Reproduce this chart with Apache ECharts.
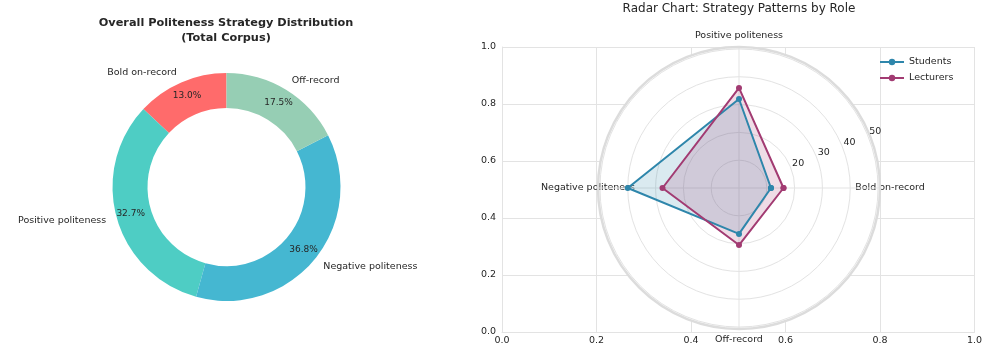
<!DOCTYPE html>
<html>
<head>
<meta charset="utf-8">
<script src="https://cdn.jsdelivr.net/npm/echarts@6/dist/echarts.min.js"></script>
<style>
html,body{margin:0;padding:0;background:#fff;}
#chart{width:985px;height:347px;}
</style>
</head>
<body>
<div id="chart"></div>
<script>
// ---- Data ----
const pieCategories = ['Bold on-record', 'Positive politeness', 'Negative politeness', 'Off-record'];
const pieValues = [13.0, 32.7, 36.8, 17.5];
const pieColors = ['#FF6B6B', '#4ECDC4', '#45B7D1', '#96CEB4'];

const radarCategories = ['Bold on-record', 'Positive politeness', 'Negative politeness', 'Off-record'];
const studentsValues = [11.5, 32.0, 40.0, 16.5];
const lecturersValues = [16.0, 36.0, 27.5, 20.5];
const seriesNames = ['Students', 'Lecturers'];

const cartTicks = [0, 0.2, 0.4, 0.6, 0.8, 1.0];
const radialTickLabels = [20, 30, 40, 50];

const FONT = 'DejaVu Sans';
const TXT = '#262626';
const GRID = '#e3e3e3';

const chart = echarts.init(document.getElementById('chart'), null, {renderer: 'canvas'});

const angleStep = 360 / radarCategories.length;
function closeLoop(vals) {
  const pts = radarCategories.map((c, i) => [vals[i], i * angleStep]);
  pts.push([vals[0], 360]);
  return pts;
}

const polarCenter = [739, 188];
const polarR = 141;
const rMax = 50.7;

const option = {
  backgroundColor: '#fff',
  animation: false,
  textStyle: {fontFamily: FONT},
  title: [
    {text: 'Overall Politeness Strategy Distribution\n(Total Corpus)', left: 226, top: 16, padding: 0, textAlign: 'center',
     textStyle: {fontSize: 11.3, fontWeight: 'bold', lineHeight: 15, color: TXT, fontFamily: FONT}},
    {text: 'Radar Chart: Strategy Patterns by Role', left: 739, top: 1, padding: 0, textAlign: 'center',
     textStyle: {fontSize: 12, fontWeight: 'normal', lineHeight: 15, color: TXT, fontFamily: FONT}}
  ],
  legend: {
    data: seriesNames, orient: 'vertical', left: 874, top: 52, itemWidth: 24, itemHeight: 8, itemGap: 6,
    textStyle: {fontSize: 9.5, color: TXT, fontFamily: FONT}
  },
  grid: {left: 502, right: 8, top: 47, bottom: 15, containLabel: false},
  xAxis: {type: 'value', min: cartTicks[0], max: cartTicks[cartTicks.length-1], interval: 0.2, z: 0,
    axisLine: {show: true, lineStyle: {color: GRID}}, axisTick: {show: false},
    splitLine: {show: true, lineStyle: {color: GRID}},
    axisLabel: {formatter: v => v.toFixed(1), fontSize: 9.5, color: TXT, margin: 4, fontFamily: FONT}},
  yAxis: {type: 'value', min: cartTicks[0], max: cartTicks[cartTicks.length-1], interval: 0.2, z: 0,
    axisLine: {show: true, lineStyle: {color: GRID}}, axisTick: {show: false},
    splitLine: {show: true, lineStyle: {color: GRID}},
    axisLabel: {formatter: v => v.toFixed(1), fontSize: 9.5, color: TXT, margin: 6, fontFamily: FONT}},
  polar: [
    {center: polarCenter, radius: polarR},
    {center: polarCenter, radius: 160}
  ],
  angleAxis: [
    {polarIndex: 0, type: 'value', min: 0, max: 360, interval: angleStep, startAngle: 0, clockwise: false, z: 2,
     axisLine: {show: true, lineStyle: {color: '#dcdcdc', width: 2.5}}, axisTick: {show: false},
     splitLine: {show: true, lineStyle: {color: GRID, width: 1}},
     axisLabel: {margin: -40, formatter: v => (v < 360 ? '{n|' + radarCategories[Math.round(v / angleStep)] + '}' : ''),
       rich: {n: {width: 100, height: 102, align: 'center', verticalAlign: 'middle', fontSize: 9.5, color: TXT, fontFamily: FONT}}}},
    {polarIndex: 1, type: 'value', min: 0, max: 360, startAngle: 22.5, clockwise: false,
     axisLine: {show: false}, axisTick: {show: false}, axisLabel: {show: false}, splitLine: {show: false}}
  ],
  radiusAxis: [
    {polarIndex: 0, type: 'value', min: 0, max: rMax, interval: 10, z: 2,
     axisLine: {show: false}, axisTick: {show: false}, axisLabel: {show: false},
     splitLine: {show: true, lineStyle: {color: GRID, width: 1}}},
    {polarIndex: 1, type: 'value', min: -3, max: 54.5, interval: 1, z: 4,
     axisLine: {show: false}, axisTick: {show: false}, splitLine: {show: false},
     axisLabel: {formatter: v => (radialTickLabels.indexOf(Math.round(v)) >= 0 && Math.abs(v - Math.round(v)) < 1e-6 ? String(Math.round(v)) : ''),
       align: 'center', verticalAlign: 'middle', fontSize: 9.5, color: TXT, margin: 0, fontFamily: FONT}}
  ],
  series: [
    {type: 'pie', name: 'ring', center: [226.5, 187], radius: [79, 114], startAngle: 90, clockwise: false,
     avoidLabelOverlap: false, silent: true,
     data: pieCategories.map((c, i) => ({name: c, value: pieValues[i], itemStyle: {color: pieColors[i]}})),
     label: {show: true, position: 'inside', formatter: p => p.value.toFixed(1) + '%', fontSize: 9, color: TXT, fontFamily: FONT},
     labelLine: {show: false}},
    {type: 'pie', name: 'names', center: [226.5, 187], radius: [124, 125], startAngle: 90, clockwise: false,
     avoidLabelOverlap: false, silent: true,
     data: pieCategories.map((c, i) => ({name: c, value: pieValues[i], itemStyle: {color: 'rgba(0,0,0,0)'}})),
     label: {show: true, position: 'outside', formatter: '{b}', fontSize: 9.5, color: TXT, fontFamily: FONT, distanceToLabelLine: 0},
     labelLine: {show: false, length: 0, length2: 0}},
    {type: 'pie', name: 'polarbg', center: polarCenter, radius: [0, polarR], silent: true, z: 1,
     data: [{name: 'bg', value: 1, itemStyle: {color: '#ffffff'}}], label: {show: false}, labelLine: {show: false}},
    {type: 'line', name: seriesNames[0], coordinateSystem: 'polar', polarIndex: 0, z: 3,
     data: closeLoop(studentsValues), symbol: 'circle', symbolSize: 6,
     itemStyle: {color: '#2E86AB'}, lineStyle: {color: '#2E86AB', width: 2},
     areaStyle: {color: 'rgba(46,134,171,0.25)'}},
    {type: 'line', name: seriesNames[1], coordinateSystem: 'polar', polarIndex: 0, z: 3,
     data: closeLoop(lecturersValues), symbol: 'circle', symbolSize: 6,
     itemStyle: {color: '#A23B72'}, lineStyle: {color: '#A23B72', width: 2},
     areaStyle: {color: 'rgba(162,59,114,0.25)'}}
  ]
};
chart.setOption(option);
</script>
</body>
</html>
